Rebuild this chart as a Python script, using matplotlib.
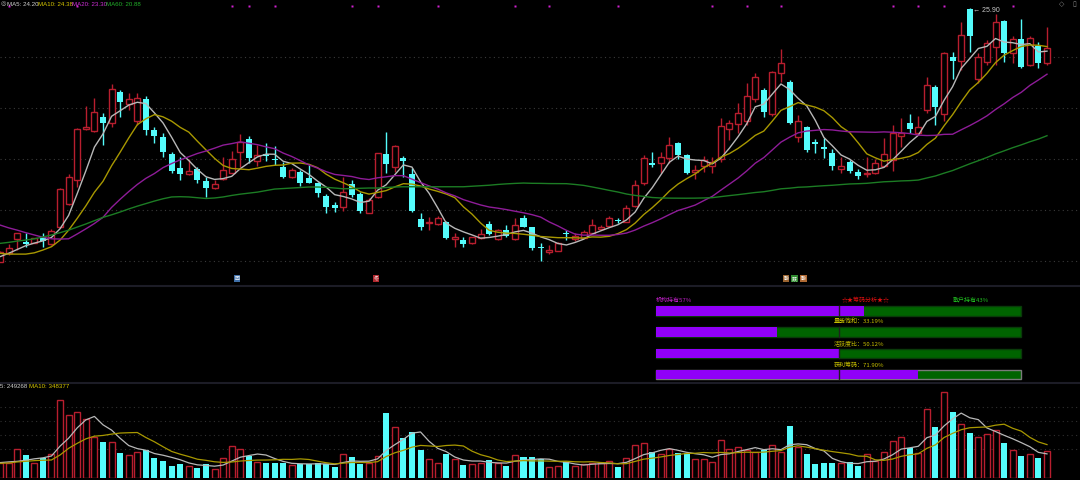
"""Daily K-line chart with MA lines, chip analysis bars and volume panel."""

import matplotlib

matplotlib.use("Agg")
import matplotlib.pyplot as plt
import numpy as np
import pandas as pd

plt.rcParams["font.family"] = ["Noto Sans CJK SC", "DejaVu Sans"]

W, H = 1080, 480
NARROW = ["Liberation Sans Narrow", "Liberation Sans", "DejaVu Sans"]

# ---- daily candles ----
opens = [
    15.96, 16.29, 16.86, 16.72, 16.71, 16.89, 16.65, 17.31, 18.22, 19.16,
    21.15, 21.10, 21.62, 21.41, 22.63, 22.13, 21.49, 22.33, 21.12, 20.86,
    20.18, 19.65, 19.40, 19.58, 19.14, 18.84, 19.19, 19.45, 20.27, 20.76,
    19.92, 20.17, 20.00, 19.69, 19.27, 19.49, 19.24, 19.06, 18.55, 18.20,
    18.09, 19.01, 18.61, 17.88, 18.48, 20.18, 19.69, 20.01, 19.40, 17.62,
    17.46, 17.44, 17.53, 16.86, 16.81, 16.68, 16.89, 17.44, 16.84, 17.20,
    16.84, 17.66, 17.31, 16.55, 16.33, 16.39, 17.10, 16.86, 16.90, 17.07,
    17.25, 17.36, 17.59, 17.53, 18.14, 19.03, 19.82, 19.82, 20.01, 20.60,
    20.14, 19.46, 19.71, 19.71, 19.97, 21.15, 21.35, 21.49, 22.33, 22.69,
    21.74, 23.37, 23.02, 20.84, 21.23, 20.67, 20.44, 20.21, 19.61, 19.86,
    19.48, 19.40, 19.42, 19.73, 19.95, 20.89, 21.39, 20.99, 21.91, 22.80,
    21.74, 23.97, 23.84, 25.85, 23.11, 23.80, 24.39, 25.40, 24.13, 24.68,
    23.66, 24.42, 23.76,
]
highs = [
    16.40, 16.65, 17.10, 17.07, 16.91, 17.07, 17.23, 18.84, 19.40, 21.19,
    22.07, 22.37, 21.78, 22.93, 22.69, 22.59, 22.59, 22.46, 21.23, 21.02,
    20.27, 20.08, 19.97, 19.69, 19.29, 19.16, 20.08, 20.30, 20.97, 20.89,
    20.54, 20.60, 20.50, 19.88, 19.62, 19.56, 19.75, 19.10, 18.61, 18.30,
    19.29, 19.16, 18.71, 18.44, 20.24, 21.06, 20.54, 20.10, 19.62, 17.86,
    17.70, 17.75, 17.57, 17.07, 16.92, 16.94, 17.23, 17.57, 17.23, 17.40,
    17.66, 17.79, 17.33, 16.68, 16.61, 16.75, 17.20, 17.07, 17.20, 17.63,
    17.42, 17.75, 17.66, 18.18, 19.16, 20.14, 20.27, 20.27, 20.86, 20.67,
    20.18, 19.75, 20.10, 20.08, 21.58, 21.52, 22.20, 22.95, 23.35, 22.76,
    23.45, 24.29, 23.08, 21.71, 21.28, 20.76, 20.80, 20.37, 20.05, 19.95,
    19.58, 20.05, 19.97, 20.82, 21.32, 21.58, 21.75, 21.67, 23.22, 22.89,
    24.20, 24.20, 25.37, 25.90, 24.13, 24.65, 25.67, 25.44, 24.81, 25.46,
    24.81, 24.59, 25.18,
]
lows = [
    15.96, 16.22, 16.42, 16.55, 16.68, 16.52, 16.61, 17.27, 18.18, 18.90,
    21.12, 21.06, 20.54, 21.25, 21.65, 21.91, 21.32, 20.93, 20.60, 20.08,
    19.45, 19.16, 19.37, 19.06, 18.48, 18.82, 19.16, 19.42, 19.69, 19.84,
    19.71, 19.92, 19.75, 19.25, 19.23, 18.93, 19.03, 18.51, 17.86, 17.92,
    17.95, 18.51, 17.86, 17.86, 18.44, 19.42, 19.49, 19.29, 17.91, 17.20,
    17.20, 17.40, 16.86, 16.52, 16.55, 16.64, 16.86, 17.01, 16.81, 16.94,
    16.81, 17.31, 16.44, 16.00, 16.26, 16.38, 16.81, 16.78, 16.88, 17.05,
    17.20, 17.31, 17.46, 17.52, 18.12, 18.97, 19.69, 19.42, 19.82, 19.97,
    19.40, 19.19, 19.49, 19.42, 19.88, 20.73, 21.02, 21.32, 22.24, 21.62,
    21.67, 23.02, 21.36, 20.67, 20.27, 20.24, 20.01, 19.56, 19.45, 19.42,
    19.22, 19.29, 19.40, 19.69, 19.53, 20.47, 20.99, 20.93, 21.78, 21.32,
    21.49, 23.11, 23.48, 24.20, 22.95, 23.67, 23.67, 23.80, 23.74, 23.54,
    23.63, 23.54, 23.67,
]
closes = [
    16.35, 16.48, 17.10, 16.64, 16.89, 16.78, 17.16, 18.80, 19.27, 21.15,
    21.23, 21.82, 21.39, 22.72, 22.24, 22.33, 22.38, 21.12, 20.90, 20.27,
    19.53, 19.40, 19.53, 19.16, 18.84, 19.01, 19.56, 19.97, 20.67, 20.01,
    20.14, 20.10, 19.95, 19.29, 19.56, 19.06, 19.06, 18.64, 18.12, 18.07,
    18.71, 18.56, 17.96, 18.38, 20.21, 19.78, 20.51, 19.90, 17.96, 17.33,
    17.52, 17.66, 16.90, 16.94, 16.64, 16.92, 17.03, 17.03, 17.20, 16.97,
    17.42, 17.33, 16.48, 16.48, 16.42, 16.68, 17.03, 16.97, 17.11, 17.42,
    17.33, 17.66, 17.54, 18.05, 18.95, 20.01, 19.76, 20.05, 20.54, 20.14,
    19.45, 19.56, 19.95, 19.88, 21.28, 21.41, 21.78, 22.47, 23.22, 21.82,
    23.39, 23.74, 21.39, 21.49, 20.34, 20.56, 20.39, 19.73, 19.71, 19.53,
    19.33, 19.44, 19.82, 20.17, 21.02, 20.99, 21.16, 21.25, 22.88, 22.01,
    24.13, 23.84, 24.85, 24.81, 23.97, 24.55, 25.37, 24.16, 24.68, 23.61,
    24.72, 23.74, 24.33,
]
volumes = [
    153000, 153000, 296000, 238000, 153000, 204000, 248000, 799000, 643000, 680000,
    609000, 425000, 371000, 374000, 262000, 238000, 269000, 289000, 204000, 177000,
    129000, 146000, 129000, 105000, 146000, 92000, 204000, 330000, 303000, 231000,
    170000, 153000, 153000, 153000, 136000, 146000, 143000, 160000, 146000, 112000,
    245000, 221000, 143000, 153000, 228000, 670000, 520000, 415000, 469000, 289000,
    194000, 160000, 248000, 194000, 136000, 143000, 160000, 184000, 160000, 129000,
    238000, 214000, 214000, 197000, 112000, 126000, 170000, 126000, 143000, 153000,
    153000, 180000, 119000, 211000, 340000, 357000, 272000, 248000, 296000, 255000,
    255000, 201000, 194000, 170000, 391000, 296000, 316000, 289000, 272000, 289000,
    340000, 272000, 537000, 316000, 248000, 143000, 153000, 153000, 153000, 163000,
    129000, 248000, 177000, 265000, 381000, 418000, 313000, 255000, 704000, 520000,
    877000, 673000, 551000, 466000, 425000, 452000, 493000, 357000, 289000, 228000,
    245000, 204000, 279000,
]

# MA values before each window is full
ma5_head = [16.16, 16.29, 16.44, 16.59]
ma10_head = [16.29, 16.26, 16.26, 16.26, 16.31, 16.42, 16.55, 16.81, 17.20]
ma20_head = [
    17.40, 17.29, 17.20, 17.10, 17.01, 16.92, 16.86, 16.85, 16.86, 17.05,
    17.25, 17.46, 17.70, 18.09, 18.41, 18.71, 18.99, 19.23, 19.42,
]
ma60_head = [
    16.68, 16.72, 16.77, 16.81, 16.86, 16.93, 17.01, 17.10, 17.20, 17.32,
    17.44, 17.57, 17.70, 17.80, 17.91, 18.03, 18.14, 18.24, 18.34, 18.43,
    18.50, 18.51, 18.50, 18.47, 18.44, 18.46, 18.50, 18.56, 18.61, 18.65,
    18.69, 18.75, 18.81, 18.83, 18.85, 18.87, 18.89, 18.89, 18.88, 18.85,
    18.82, 18.83, 18.84, 18.85, 18.85, 18.87, 18.89, 18.90, 18.90, 18.90,
    18.90, 18.90, 18.90, 18.90, 18.90, 18.92, 18.94, 18.96, 18.99,
]
vol_ma5_head = [160000, 167000, 173000, 184000]
vol_ma10_head = [153000, 156000, 167000, 173000, 180000, 184000, 187000, 238000, 306000]

ma_labels = ["MA5: 24.20", "MA10: 24.38", "MA20: 23.30", "MA60: 20.88"]
vol_labels = ["5: 249268", "MA10: 348377"]
high_label = "25.90"
high_index = 113

# top event markers (candle index)
event_days = [1, 9, 27, 29, 32, 41, 44, 51, 60, 64, 72, 83, 87, 91, 104, 107, 110, 118]

# signal tags along the bottom of the price panel
tag_days = [27.6, 43.8, 91.6, 92.6, 93.6]
tag_texts = ["回", "冬", "融", "跌", "融"]
tag_colors = ["#3f6fa8", "#b0282e", "#9a6430", "#2f8a2f", "#b06a34"]

# chip analysis
holders = ["机构持有57%", "散户持有43%"]
holder_share = 57.0
chip_title = "☆★筹码分析★☆"
chip_names = ["量能饱和：33.19%", "活跃度比：50.12%", "获利筹码：71.90%"]
chip_values = [33.19, 50.12, 71.90]

UP = "#b81e2e"
DOWN = "#54fcfc"
MA_COLORS = ["#b8b8b8", "#a89800", "#8e1c98", "#1c7c24"]
LABEL_COLORS = ["#d0d0d0", "#d8c800", "#d030d8", "#22b02a"]
SPACING = 8.582  # pixels per candle


def moving_average(values, window, head):
    ma = pd.Series(values, dtype=float).rolling(window).mean().to_numpy()
    ma[: len(head)] = head
    return ma


def fx(x):
    return x / W


def fy(y):
    return 1 - y / H


def draw_candles(ax):
    n = len(closes)
    idx = np.arange(n)
    o = np.array(opens)
    c = np.array(closes)
    hi = np.array(highs)
    lo = np.array(lows)
    up = c >= o
    top = np.maximum(o, c)
    bot = np.minimum(o, c)
    body = np.maximum(top - bot, 0.03)

    # wicks: up candles keep the hollow body clear
    ax.vlines(idx[up], top[up], hi[up], color=UP, lw=1, zorder=2)
    ax.vlines(idx[up], lo[up], bot[up], color=UP, lw=1, zorder=2)
    ax.vlines(idx[~up], lo[~up], hi[~up], color=DOWN, lw=1, zorder=2)
    ax.bar(idx[up], body[up], bottom=bot[up], width=0.7, facecolor="black",
           edgecolor=UP, lw=1, zorder=3)
    ax.bar(idx[~up], body[~up], bottom=bot[~up], width=0.7, color=DOWN,
           lw=0, zorder=3)
    return idx


def main() -> None:
    fig = plt.figure(figsize=(W / 100, H / 100), dpi=100, facecolor="black")

    xmax = W / SPACING

    # ---------- price panel ----------
    ax = fig.add_axes([0, fy(286), 1, 286 / H])
    ax.set_facecolor("black")
    ax.set_xlim(0, xmax)
    ax.set_ylim(15.01, 26.22)
    ax.axis("off")
    for level in [24, 22, 20, 18, 16]:
        ax.axhline(level, color="#3a3a3a", lw=0.8, ls=(0, (1, 3)), zorder=0)

    idx = draw_candles(ax)
    heads = [ma5_head, ma10_head, ma20_head, ma60_head]
    for window, head, color in zip([5, 10, 20, 60], heads, MA_COLORS):
        ax.plot(idx, moving_average(closes, window, head), color=color, lw=1, zorder=4)

    ax.annotate("← " + high_label, (high_index, highs[high_index]),
                xytext=(2, -2), textcoords="offset points", family=NARROW,
                color="#c8c8c8", fontsize=5, va="center")

    for d in event_days:
        ax.plot(d, 26.0, marker="s", ms=1.6, color="#d020d0", mec="none", zorder=5)

    for d, t, c in zip(tag_days, tag_texts, tag_colors):
        ax.text(d, 15.2, t, color="white", fontsize=3.6, ha="center", va="bottom",
                bbox=dict(boxstyle="square,pad=0.15", fc=c, ec="none"), zorder=6)

    # ---------- chip analysis panel ----------
    mid = fig.add_axes([0, fy(383), 1, 97 / H])
    mid.set_facecolor("black")
    mid.set_xlim(0, W)
    mid.set_ylim(383, 286)
    mid.axis("off")

    x0, x1 = 656, 1021
    span = x1 - x0
    shares = [holder_share] + chip_values
    rows = [(306, 316), (327, 337), (349, 358), (370, 379)]
    for k, (share, (ya, yb)) in enumerate(zip(shares, rows)):
        edge = "#7a7a7a" if k == 3 else "#0a3a0a"
        mid.add_patch(plt.Rectangle((x0, ya), span, yb - ya, facecolor="#006400",
                                    edgecolor=edge, lw=1))
        mid.add_patch(plt.Rectangle((x0, ya), span * share / 100, yb - ya,
                                    facecolor="#9000f8", edgecolor="none"))
        mid.plot([x0 + span / 2] * 2, [ya, yb], color="#202020", lw=1)

    fig.text(fx(656), fy(300), holders[0], color="#c020c8", fontsize=4.3, va="center")
    fig.text(fx(842), fy(300), chip_title, color="#e01010", fontsize=4.3, va="center")
    fig.text(fx(953), fy(300), holders[1], color="#20c020", fontsize=4.3, va="center")
    for name, ytxt in zip(chip_names, [321, 344, 365]):
        fig.text(fx(834), fy(ytxt), name, color="#c8c000", fontsize=4.3, va="center")

    # ---------- volume panel ----------
    vax = fig.add_axes([0, fy(478.3), 1, (478.3 - 383) / H])
    vax.set_facecolor("black")
    vax.set_xlim(0, xmax)
    vax.set_ylim(0, 972000)
    vax.axis("off")
    for level in [296000, 439000, 581000, 724000]:
        vax.axhline(level, color="#303030", lw=0.8, ls=(0, (1, 3)), zorder=0)

    vol = np.array(volumes)
    up = np.array(closes) >= np.array(opens)
    vax.bar(idx[up], vol[up], width=0.7, facecolor="black", edgecolor=UP, lw=1, zorder=2)
    vax.bar(idx[~up], vol[~up], width=0.7, color=DOWN, lw=0, zorder=2)
    vax.plot(idx, moving_average(volumes, 5, vol_ma5_head), color=MA_COLORS[0], lw=0.9, zorder=3)
    vax.plot(idx, moving_average(volumes, 10, vol_ma10_head), color=MA_COLORS[1], lw=0.9, zorder=3)

    # separators
    for ysep in [286, 383]:
        fig.add_artist(plt.Line2D([0, 1], [fy(ysep)] * 2, color="#1c1c26", lw=1.5))

    # ---------- header texts ----------
    fig.text(fx(0.5), fy(4), "◎", color="#bbbbbb", fontsize=4.5, va="center",
             family=["DejaVu Sans"])
    for label, color, xt in zip(ma_labels, LABEL_COLORS, [7, 38, 72, 106]):
        fig.text(fx(xt), fy(4), label, color=color, fontsize=4.4, va="center",
                 family=NARROW)
    fig.text(fx(0), fy(386.5), vol_labels[0], color="#d0d0d0", fontsize=4.4,
             va="center", family=NARROW)
    fig.text(fx(29), fy(386.5), vol_labels[1], color="#d8c800", fontsize=4.4,
             va="center", family=NARROW)
    fig.text(fx(1062), fy(4), "◇", color="#888888", fontsize=5, va="center",
             ha="center", family=["DejaVu Sans"])
    fig.text(fx(1074), fy(4), "▯", color="#888888", fontsize=5, va="center",
             ha="center", family=["DejaVu Sans"])

    fig.savefig("out.png", dpi=100, facecolor="black")


if __name__ == "__main__":
    main()
